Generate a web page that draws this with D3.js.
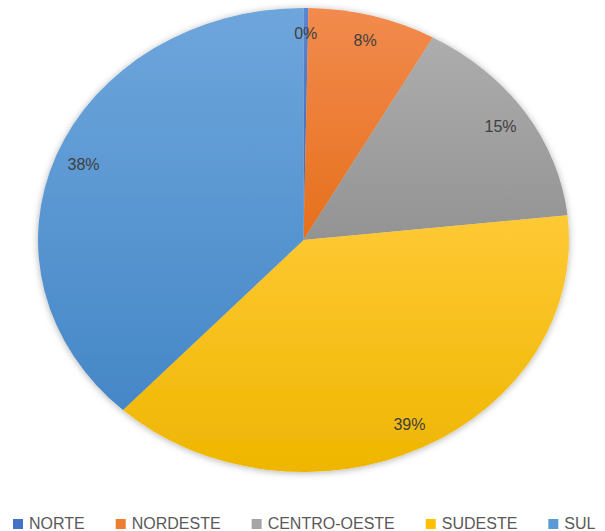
<!DOCTYPE html>
<html>
<head>
<meta charset="utf-8">
<script src="https://cdn.jsdelivr.net/npm/d3@7"></script>
<style>
  html, body { margin: 0; padding: 0; background: #ffffff; }
  svg { display: block; }
</style>
</head>
<body>
<div class="PieChart"></div>
<script>
// data
const regions = ["NORTE", "NORDESTE", "CENTRO-OESTE", "SUDESTE", "SUL"];
const shares = [0.3, 7.8, 15.2, 38.6, 38.1];
const baseColors = ["#4472C4", "#ED7D31", "#A5A5A5", "#FFC000", "#5B9BD5"];
const topColors = ["#5B86D2", "#F28B4E", "#ADADAD", "#FFC935", "#6EA6DC"];
const bottomColors = ["#3C67B4", "#E6701C", "#939393", "#EEB600", "#4587C7"];

const width = 605, height = 531;
const cx = 303.5, cy = 240;
const rx = 265.5, ry = 232;

const container = d3.select(".PieChart");
const svg = container.append("svg")
  .attr("width", width)
  .attr("height", height);

const defs = svg.append("defs");

// soft outer shadow like the office chart
const shadow = defs.append("filter")
  .attr("id", "pieShadow")
  .attr("x", "-10%").attr("y", "-10%")
  .attr("width", "120%").attr("height", "120%");
shadow.append("feDropShadow")
  .attr("dx", 0).attr("dy", 1)
  .attr("stdDeviation", 3.5)
  .attr("flood-color", "#000")
  .attr("flood-opacity", 0.3);

regions.forEach((r, i) => {
  const g = defs.append("linearGradient")
    .attr("id", "grad" + i)
    .attr("x1", "0%").attr("x2", "0%")
    .attr("y1", "0%").attr("y2", "100%");
  g.append("stop").attr("offset", "0%").attr("stop-color", topColors[i]);
  g.append("stop").attr("offset", "100%").attr("stop-color", bottomColors[i]);
});

const data = regions.map((r, i) => ({ region: r, value: shares[i], idx: i }));
const total = d3.sum(shares);

const pie = d3.pie()
  .sort(null)
  .value(d => d.value)
  .startAngle(0)
  .endAngle(2 * Math.PI);

const arc = d3.arc()
  .innerRadius(0)
  .outerRadius(ry);

const arcs = pie(data);

// the pie is stretched horizontally, so scale a circular pie
const outer = svg.append("g").attr("filter", "url(#pieShadow)");
const pieGroup = outer.append("g")
  .attr("transform", `translate(${cx},${cy}) scale(${rx / ry},1)`);

pieGroup.selectAll("path")
  .data(arcs)
  .join("path")
  .attr("d", arc)
  .attr("fill", d => `url(#grad${d.data.idx})`);

// labels (kept unscaled, positioned on the ellipse)
const fmt = d3.format(".0%");
const labelRatio = 0.89;
svg.append("g")
  .selectAll("text")
  .data(arcs)
  .join("text")
  .attr("x", d => {
    const a = (d.startAngle + d.endAngle) / 2;
    return cx + rx * labelRatio * Math.sin(a);
  })
  .attr("y", d => {
    const a = (d.startAngle + d.endAngle) / 2;
    return cy - ry * labelRatio * Math.cos(a);
  })
  .attr("text-anchor", "middle")
  .attr("dominant-baseline", "central")
  .style("font-family", "'Liberation Sans', Arial, sans-serif")
  .style("font-size", "16px")
  .style("fill", "#404040")
  .text(d => fmt(d.data.value / total));

// legend along the bottom
const legend = svg.append("g").attr("class", "legend");
let lx = 13;
const legendBaseline = 529;
regions.forEach((r, i) => {
  legend.append("rect")
    .attr("x", lx)
    .attr("y", legendBaseline - 10)
    .attr("width", 10)
    .attr("height", 10)
    .attr("fill", baseColors[i]);
  const t = legend.append("text")
    .attr("x", lx + 16)
    .attr("y", legendBaseline)
    .style("font-family", "'Liberation Sans', Arial, sans-serif")
    .style("font-size", "16px")
    .style("fill", "#595959")
    .text(r);
  lx += 16 + t.node().getComputedTextLength() + 31;
});
</script>
</body>
</html>
